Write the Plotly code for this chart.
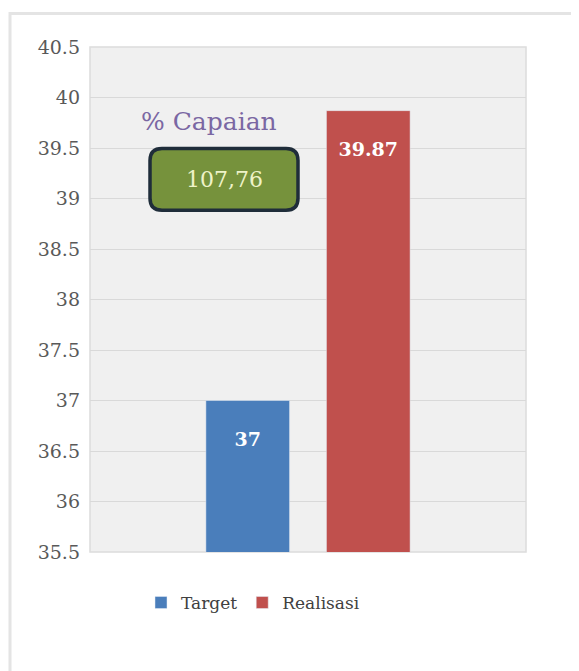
import plotly.graph_objects as go

categories = [""]
target_values = [37]
realisasi_values = [39.87]
target_labels = ["37"]
realisasi_labels = ["39.87"]
capaian_label = "% Capaian"
capaian_value = "107,76"

OFF = 8  # page body margin
W, H = 579 - OFF, 671 - OFF
PL, PR, PT, PB = 90, 526, 46.5, 552  # plot area in page pixels
L, R, T, B = PL - OFF, W - (PR - OFF), PT - OFF, H - (PB - OFF)
FONT = "DejaVu Serif"

def px_x(px):
    return (px - PL) / (PR - PL)

def px_y(py):
    return (PB - py) / (PB - PT)

label_font = dict(family=FONT, size=19, color="white", weight="bold")

fig = go.Figure()
fig.add_trace(go.Bar(
    name="Target", x=categories, y=target_values,
    marker=dict(color="#4a7ebb"),
    text=target_labels, texttemplate="&nbsp;<br>%{text}",
    textposition="inside", insidetextanchor="end", textfont=label_font,
))
fig.add_trace(go.Bar(
    name="Realisasi", x=categories, y=realisasi_values,
    marker=dict(color="#c0504d"),
    text=realisasi_labels, texttemplate="&nbsp;<br>%{text}",
    textposition="inside", insidetextanchor="end", textfont=label_font,
))

# rounded box for % Capaian value
x0, x1 = px_x(150), px_x(298)
y0, y1 = px_y(210), px_y(148)
rx, ry = 12 / (PR - PL), 12 / (PB - PT)
path = (f"M {x0+rx},{y0} L {x1-rx},{y0} Q {x1},{y0} {x1},{y0+ry} "
        f"L {x1},{y1-ry} Q {x1},{y1} {x1-rx},{y1} L {x0+rx},{y1} "
        f"Q {x0},{y1} {x0},{y1-ry} L {x0},{y0+ry} Q {x0},{y0} {x0+rx},{y0} Z")

shapes = [
    dict(type="rect", xref="paper", yref="paper", x0=0, x1=1, y0=0, y1=1,
         line=dict(color="#dcdcdc", width=1.5), layer="below"),
    dict(type="rect", xref="paper", yref="paper",
         x0=px_x(10), x1=px_x(620), y0=px_y(720), y1=px_y(13),
         line=dict(color="#e4e4e4", width=3), layer="below"),
    dict(type="path", xref="paper", yref="paper", path=path,
         fillcolor="#76923c", line=dict(color="#1f2d3a", width=3.5)),
]

annotations = [
    dict(xref="paper", yref="paper", x=px_x(209), y=px_y(121), text=capaian_label,
         xanchor="center", yanchor="middle", showarrow=False,
         font=dict(family=FONT, size=25, color="#7a67a3")),
    dict(xref="paper", yref="paper", x=(x0 + x1) / 2, y=(y0 + y1) / 2, text=capaian_value,
         xanchor="center", yanchor="middle", showarrow=False,
         font=dict(family=FONT, size=22, color="#eef3c8")),
]

fig.update_layout(
    width=W, height=H,
    margin=dict(l=L, r=R, t=T, b=B, autoexpand=False),
    paper_bgcolor="white",
    plot_bgcolor="#f0f0f0",
    barmode="group",
    bargap=0.447,
    bargroupgap=0.306,
    font=dict(family=FONT, size=17, color="#555555"),
    showlegend=True,
    legend=dict(orientation="h", x=px_x(253), xanchor="center", y=px_y(603), yanchor="middle",
                font=dict(family=FONT, size=17, color="#404040"),
                itemwidth=30, tracegroupgap=0, traceorder="normal"),
    shapes=shapes,
    annotations=annotations,
    xaxis=dict(showticklabels=False, showgrid=False, zeroline=False, showline=False),
    yaxis=dict(range=[35.5, 40.5], dtick=0.5, tick0=35.5, showgrid=True,
               gridcolor="#d9d9d9", gridwidth=1.2, zeroline=False, showline=False,
               tickfont=dict(family=FONT, size=19, color="#595959"),
               ticklabelstandoff=9),
)

fig.write_html("out.html")
